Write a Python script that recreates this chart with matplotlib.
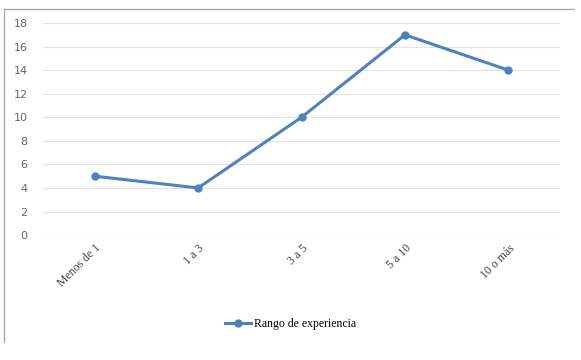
import matplotlib.pyplot as plt
from matplotlib.lines import Line2D

categories = ["Menos de 1", "1 a 3", "3 a 5", "5 a 10", "10 o más"]
values = [5, 4, 10, 17, 14]
yticks = [0, 2, 4, 6, 8, 10, 12, 14, 16, 18]

color = "#4f81bd"

fig = plt.figure(figsize=(5.81, 3.60), dpi=100)
ax = fig.add_axes([0.074, 0.347, 0.89, 0.589])

x = range(len(categories))
ax.plot(x, values, color=color, linewidth=2.2, marker="o", markersize=5,
        label="Rango de experiencia")

ax.set_xlim(-0.5, len(categories) - 0.5)
ax.set_ylim(0, 18)
ax.set_yticks(yticks)
ax.set_xticks(list(x))
ax.set_xticklabels(categories, rotation=45, ha="right", rotation_mode="anchor",
                   fontsize=8.5, family="Liberation Serif", color="#404040")
ax.tick_params(axis="y", labelsize=8, colors="#666666", length=0, pad=11)
ax.tick_params(axis="x", length=0, pad=5)
ax.grid(axis="y", color="#e3e3e3", linewidth=0.8)
ax.set_axisbelow(True)
for s in ax.spines.values():
    s.set_visible(False)
ax.axhline(0, color="#d9d9d9", linewidth=0.8)

fig.legend(loc="center", bbox_to_anchor=(0.5, 0.1), frameon=False,
           prop={"family": "Liberation Serif", "size": 8.5}, handlelength=2.2,
           handletextpad=0.2)

# outer frame: top and left edges only
top = 1 - 9 / 360
fig.lines.append(Line2D([4 / 581, 574 / 581], [top, top], transform=fig.transFigure,
                        color="#a6a6a6", linewidth=0.9))
fig.lines.append(Line2D([4 / 581, 4 / 581], [top, 1 - 342 / 360], transform=fig.transFigure,
                        color="#a6a6a6", linewidth=0.9))

fig.savefig("out.png", dpi=100)
